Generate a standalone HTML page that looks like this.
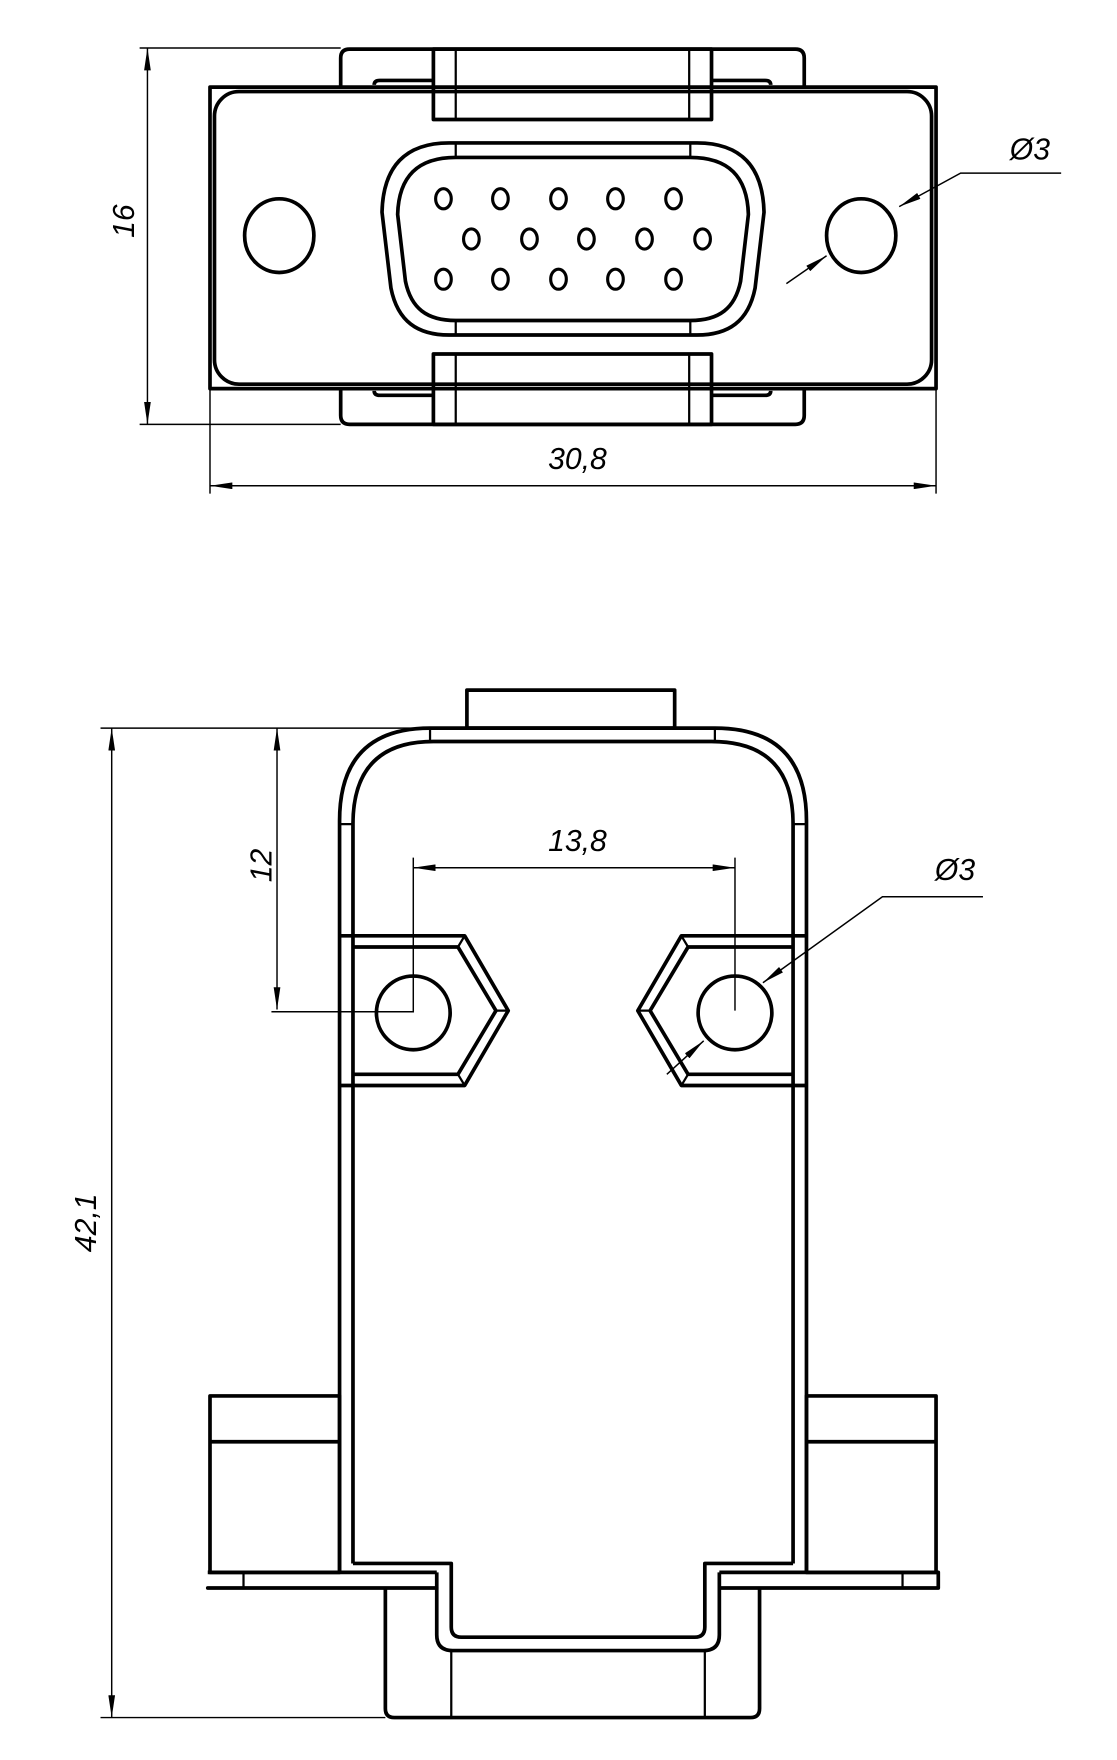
<!DOCTYPE html>
<html><head><meta charset="utf-8"><style>
html,body{margin:0;padding:0;background:#fff}
svg{display:block}
text{font-family:"Liberation Sans",sans-serif;font-style:italic;fill:#000}
</style></head><body>
<svg width="1117" height="1760" viewBox="0 0 1000 1576" preserveAspectRatio="none" xmlns="http://www.w3.org/2000/svg">
<defs>
<marker id="a" viewBox="0 0 20 6" refX="20" refY="3" markerWidth="20" markerHeight="6" markerUnits="userSpaceOnUse" orient="auto-start-reverse"><path d="M0,0 L20,3 L0,6 Z" fill="#000"/></marker>
</defs>
<g fill="none" stroke="#000" stroke-width="3.3" stroke-linejoin="round">
<!-- TOP VIEW -->
<rect x="188" y="78" width="650" height="270"/>
<rect x="192" y="82" width="642" height="262" rx="22"/>
<!-- top tab -->
<path d="M305,78 V52 Q305,44 313,44 H712 Q720,44 720,52 V78"/>
<path d="M335,76 Q335,72 340,72 H388 M637,72 H685 Q690,72 690,76"/>
<rect x="388" y="44" width="249" height="63"/>
<path d="M408,44 V107 M617,44 V107" stroke-width="2"/>
<!-- bottom tab -->
<path d="M305,348 V372 Q305,380 313,380 H712 Q720,380 720,372 V348"/>
<path d="M335,350 Q335,354 340,354 H388 M637,354 H685 Q690,354 690,350"/>
<rect x="388" y="317" width="249" height="63"/>
<path d="M408,317 V380 M617,317 V380" stroke-width="2"/>
<!-- D shell -->
<path d="M402,128 H624 C664,128 683,150 684,190 L676,258 C670,288 652,300 624,300 H402 C374,300 356,288 350,258 L342,190 C343,150 362,128 402,128 Z"/>
<path d="M408,141 H618 C652,141 669,158 670,192 L663,252 C658,276 644,287 618,287 H408 C382,287 368,276 363,252 L356,192 C357,158 374,141 408,141 Z"/>
<path d="M408,128 V141 M618,128 V141 M408,287 V300 M618,287 V300" stroke-width="2"/>
<g stroke-width="2.8">
<ellipse cx="397" cy="178" rx="7" ry="9"/><ellipse cx="448" cy="178" rx="7" ry="9"/><ellipse cx="500" cy="178" rx="7" ry="9"/><ellipse cx="551" cy="178" rx="7" ry="9"/><ellipse cx="603" cy="178" rx="7" ry="9"/>
<ellipse cx="422" cy="214" rx="7" ry="9"/><ellipse cx="474" cy="214" rx="7" ry="9"/><ellipse cx="525" cy="214" rx="7" ry="9"/><ellipse cx="577" cy="214" rx="7" ry="9"/><ellipse cx="629" cy="214" rx="7" ry="9"/>
<ellipse cx="397" cy="250" rx="7" ry="9"/><ellipse cx="448" cy="250" rx="7" ry="9"/><ellipse cx="500" cy="250" rx="7" ry="9"/><ellipse cx="551" cy="250" rx="7" ry="9"/><ellipse cx="603" cy="250" rx="7" ry="9"/>
</g>
<ellipse cx="250" cy="211" rx="31" ry="33"/>
<ellipse cx="771" cy="211" rx="31" ry="33"/>

<!-- BOTTOM VIEW -->
<rect x="418" y="618" width="186" height="34"/>
<path d="M304,1408 V735 Q304,652 385,652 H640 Q722,652 722,735 V1408"/>
<path d="M316,1400 V738 Q316,664 388,664 H637 Q710,664 710,738 V1400"/>
<path d="M304,738 H316 M710,738 H722 M385,652 V664 M640,652 V664" stroke-width="2"/>
<!-- hex bosses -->
<path d="M304,838 H416 L455,905 L416,972 H304"/>
<path d="M316,848 H410 L444,905 L410,962 H316"/>
<path d="M416,838 L410,848 M455,905 H444 M416,972 L410,962" stroke-width="2"/>
<circle cx="370" cy="907" r="33"/>
<path d="M722,838 H610 L571,905 L610,972 H722"/>
<path d="M710,848 H616 L582,905 L616,962 H710"/>
<path d="M610,838 L616,848 M571,905 H582 M610,972 L616,962" stroke-width="2"/>
<circle cx="658" cy="907" r="33"/>
<!-- side tabs -->
<rect x="188" y="1250" width="116" height="158"/>
<path d="M188,1291 H304"/>
<rect x="722" y="1250" width="116" height="158"/>
<path d="M722,1291 H838"/>
<!-- flange -->
<path d="M186,1408 H391 M644,1408 H840 V1422 H644 M391,1422 H186 Z"/>
<path d="M218,1408 V1422 M808,1408 V1422" stroke-width="2"/>
<path d="M316,1400 H404 V1457 Q404,1466 413,1466 H622 Q631,1466 631,1457 V1400 H710"/>
<path d="M391,1408 V1464 Q391,1478 405,1478 H630 Q644,1478 644,1464 V1408"/>
<!-- lower shell -->
<path d="M345,1422 V1530 Q345,1538 353,1538 H672 Q680,1538 680,1530 V1422"/>
<path d="M404,1478 V1538 M631,1478 V1538" stroke-width="2"/>
</g>

<!-- dimensions -->
<g fill="none" stroke="#000" stroke-width="1.3">
<path d="M125,43 H305 M125,380 H305"/>
<path d="M132,43 V380" marker-start="url(#a)" marker-end="url(#a)"/>
<path d="M188,348 V442 M838,78 V442"/>
<path d="M188,435 H838" marker-start="url(#a)" marker-end="url(#a)"/>
<path d="M950,155 H860 L805,185" marker-end="url(#a)"/>
<path d="M704,254 L740,229" marker-end="url(#a)"/>

<path d="M90,652 H390 M90,1538 H345"/>
<path d="M100,652 V1538" marker-start="url(#a)" marker-end="url(#a)"/>
<path d="M243,906 H370 V768"/>
<path d="M248,652 V904" marker-start="url(#a)" marker-end="url(#a)"/>
<path d="M658,768 V905"/>
<path d="M370,777 H658" marker-start="url(#a)" marker-end="url(#a)"/>
<path d="M880,803 H790 L683,880" marker-end="url(#a)"/>
<path d="M597,962 L630,932" marker-end="url(#a)"/>
</g>
<g font-size="27">
<text x="130" y="208" transform="rotate(-90 120 208)" text-anchor="middle">16</text>
<text x="517" y="420" text-anchor="middle">30,8</text>
<text x="922" y="143" text-anchor="middle">Ø3</text>
<text x="86" y="1095" transform="rotate(-90 86 1095)" text-anchor="middle">42,1</text>
<text x="243" y="775" transform="rotate(-90 243 775)" text-anchor="middle">12</text>
<text x="517" y="762" text-anchor="middle">13,8</text>
<text x="855" y="788" text-anchor="middle">Ø3</text>
</g>
</svg>
</body></html>
